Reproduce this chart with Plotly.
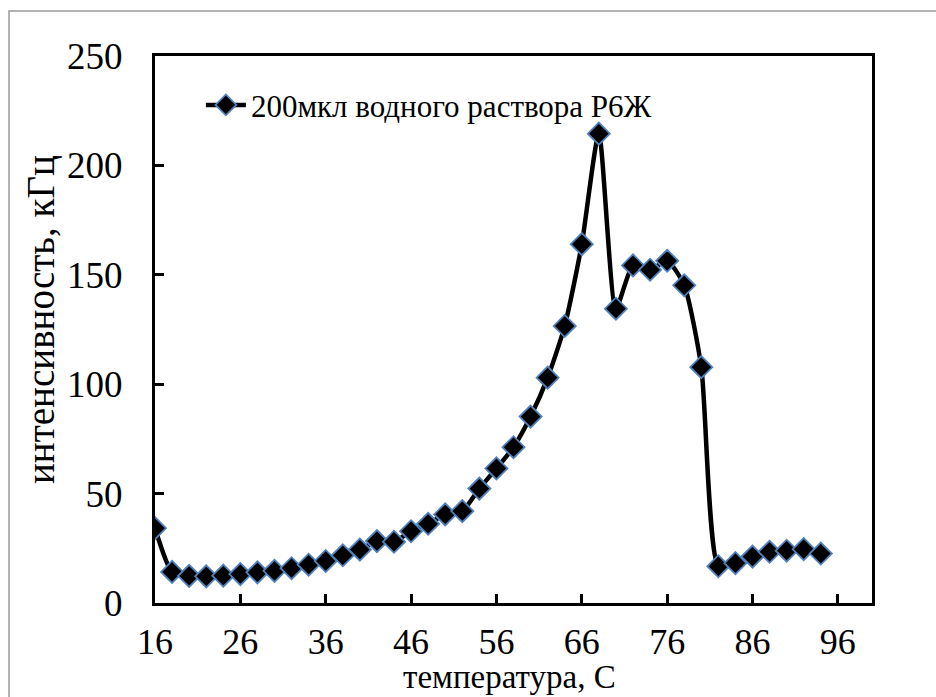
import plotly.graph_objects as go

temperature = [16, 18, 20, 22, 24, 26, 28, 30, 32, 34, 36, 38, 40, 42, 44, 46, 48, 50, 52, 54,
               56, 58, 60, 62, 64, 66, 68, 70, 72, 74, 76, 78, 80, 82, 84, 86, 88, 90, 92, 94]
intensity = [34.2, 14.2, 12.4, 12.2, 12.5, 13.2, 14.0, 14.7, 15.9, 17.5, 19.2, 21.8, 24.4, 28.3, 28.0,
             32.8, 36.2, 40.5, 42.0, 52.3, 61.5, 71.2, 85.2, 103.0, 126.6, 164.0, 214.5, 134.5,
             154.3, 152.3, 156.4, 145.2, 107.8, 16.8, 18.2, 21.2, 23.4, 23.9, 24.6, 22.6]
series_name = "200мкл водного раствора Р6Ж"
x_ticks = [16, 26, 36, 46, 56, 66, 76, 86, 96]
y_ticks = [0, 50, 100, 150, 200, 250]
x_title = "температура, С"
y_title = "интенсивность, кГц"

FONT = "Liberation Serif"

fig = go.Figure()
fig.add_trace(go.Scatter(
    x=temperature, y=intensity, name=series_name,
    mode="lines+markers",
    line=dict(color="black", width=4.5, shape="spline", smoothing=0.6),
    marker=dict(symbol="diamond", size=17, color="black",
                line=dict(color="#4F81BD", width=1.8)),
    showlegend=True,
))

fig.update_layout(
    width=936, height=697,
    margin=dict(l=155, r=64, t=56, b=94, autoexpand=False),
    paper_bgcolor="white", plot_bgcolor="white",
    font=dict(family=FONT, size=37, color="black"),
    showlegend=True,
    legend=dict(x=0.064, y=0.91, xanchor="left", yanchor="middle",
                font=dict(family=FONT, size=31, color="black"),
                bgcolor="rgba(0,0,0,0)", itemwidth=40),
    xaxis=dict(range=[16, 100], tickvals=x_ticks, ticks="inside", ticklen=9, tickwidth=2.5,
               tickcolor="black", showline=True, linecolor="black", linewidth=3, mirror=True,
               showgrid=False, zeroline=False, ticklabelstandoff=5, automargin=False,
               tickfont=dict(family=FONT, size=36)),
    yaxis=dict(range=[0, 250], tickvals=y_ticks, ticks="inside", ticklen=9, tickwidth=2.5,
               tickcolor="black", showline=True, linecolor="black", linewidth=3, mirror=True,
               showgrid=False, zeroline=False, ticklabelstandoff=22, automargin=False,
               tickfont=dict(family=FONT, size=37)),
    annotations=[
        dict(text=x_title, xref="paper", yref="paper", x=(509 - 155) / 717, y=(603 - 677) / 547,
             xanchor="center", yanchor="middle", showarrow=False,
             font=dict(family=FONT, size=33, color="black")),
        dict(text=y_title, xref="paper", yref="paper", x=(40 - 155) / 717, y=(603 - 320) / 547,
             xanchor="center", yanchor="middle", showarrow=False, textangle=-90,
             font=dict(family=FONT, size=39, color="black")),
    ],
    shapes=[dict(type="rect", xref="paper", yref="paper",
                 x0=(9 - 155) / 717, x1=(940 - 155) / 717,
                 y0=(603 - 705) / 547, y1=(603 - 11) / 547,
                 line=dict(color="#9a9a9a", width=1.5), fillcolor="rgba(0,0,0,0)", layer="below")],
)

fig.write_html("out.html")
